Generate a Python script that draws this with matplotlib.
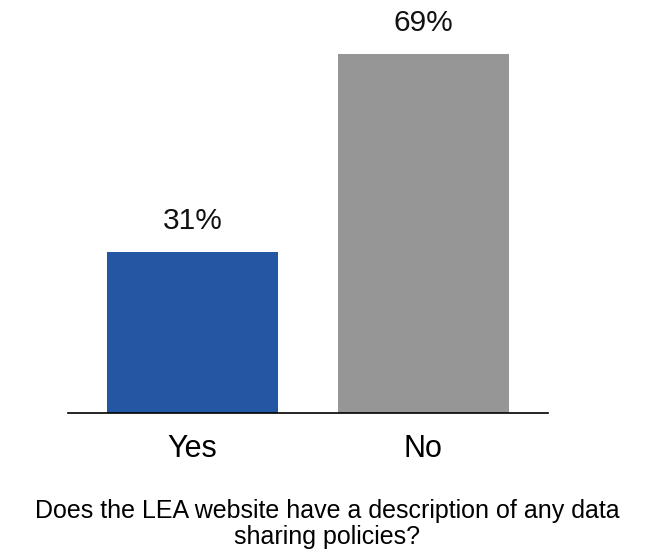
import matplotlib
matplotlib.use("Agg")
import matplotlib.pyplot as plt

plt.rcParams['font.family'] = ['Liberation Sans', 'DejaVu Sans']

categories = ["Yes", "No"]
values = [31, 69]
labels = ["31%", "69%"]
colors = ["#2457A3", "#969696"]
title = "Does the LEA website have a description of any data\nsharing policies?"

fig = plt.figure(figsize=(6.54, 5.58), dpi=100)
W, H = 654, 558
ax_left, ax_right = 68, 548
ax_bottom, ax_top = 413, 40
ax = fig.add_axes([ax_left / W, 1 - ax_bottom / H, (ax_right - ax_left) / W, (ax_bottom - ax_top) / H])

px_per_unit = (413 - 54) / 69.0
ax.set_ylim(0, (ax_bottom - ax_top) / px_per_unit)
x = [0, 1]
ax.bar(x, values, width=0.742, color=colors)
ax.set_xlim(-0.54, 1.542)

for xi, v, lab in zip(x, values, labels):
    ax.text(xi, v + 3.3, lab, ha='center', va='bottom', fontsize=21.5, color='#111111')

for s in ['top', 'right', 'left']:
    ax.spines[s].set_visible(False)
ax.spines['bottom'].set_color('black')
ax.spines['bottom'].set_linewidth(1.2)
ax.set_yticks([])
ax.set_xticks(x)
ax.set_xticklabels(categories, fontsize=22)
ax.tick_params(axis='x', length=0, pad=15)

fig.text(0.5, 1 - 524 / H, title, ha='center', va='center', fontsize=18, linespacing=1.1)

fig.savefig("out.png", dpi=100)
